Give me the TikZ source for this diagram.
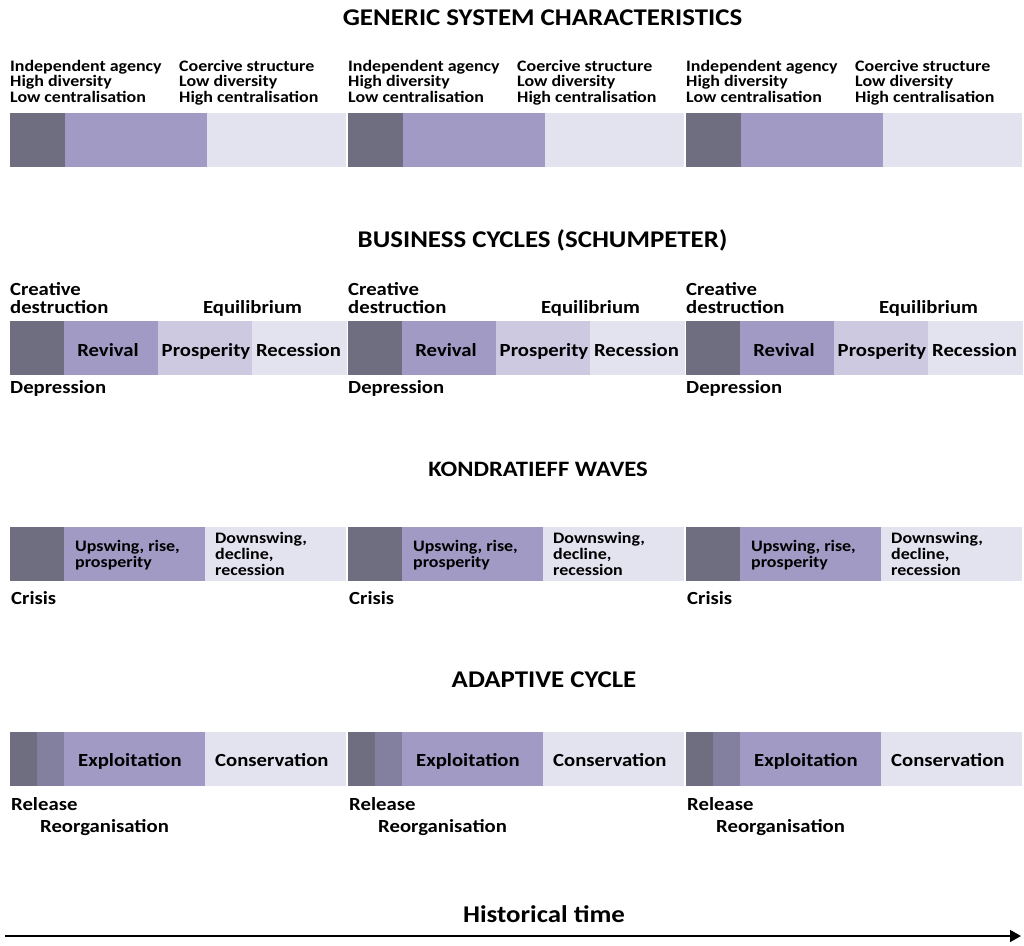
\documentclass[tikz,border=0pt]{standalone}
\usepackage{fontspec}
\setmainfont{Carlito}[FakeStretch=1.12]
\usetikzlibrary{arrows.meta}

% phase colours, darkest to lightest
\definecolor{phDark}{HTML}{6F6E80}
\definecolor{phDarkMid}{HTML}{827F9F}
\definecolor{phMid}{HTML}{A09AC4}
\definecolor{phPale}{HTML}{CCC9E1}
\definecolor{phLight}{HTML}{E3E2EF}

% multi-line labels are placed by the baseline of their last line
\tikzset{
  seg/.style={draw=none, inner sep=0pt, outer sep=0pt, minimum height=54pt, anchor=north west},
  heading/.style={font=\fontsize{24}{24}\selectfont\bfseries, anchor=base, inner sep=0pt},
  lbl/.style={font=\fontsize{18.5}{18}\selectfont\bfseries, anchor=base west, inner sep=0pt, align=left},
  smalllbl/.style={font=\fontsize{16}{15.5}\selectfont\bfseries, anchor=base west, inner sep=0pt, align=left},
  inlbl/.style={font=\fontsize{16}{16}\selectfont\bfseries, anchor=base west, inner sep=0pt, align=left},
  clbl/.style={font=\fontsize{18.5}{18}\selectfont\bfseries, anchor=base, inner sep=0pt},
}

\begin{document}
\begin{tikzpicture}[x=1pt, y=-1pt]
\useasboundingbox (0,0) rectangle (1024,945);

% ---- generic system characteristics ----
\node[heading] (t1) at (542.5,25) {GENERIC SYSTEM CHARACTERISTICS};
\foreach \i/\x in {1/10, 2/348, 3/686} {
  \node[seg, fill=phDark,  minimum width=55pt]  (ga\i) at (\x,113) {};
  \node[seg, fill=phMid,   minimum width=142pt] (gb\i) at (\x+55,113) {};
  \node[seg, fill=phLight, minimum width=139pt] (gc\i) at (\x+197,113) {};
  \node[smalllbl] (gl\i) at (\x,102) {Independent agency\\High diversity\\Low centralisation};
  \node[smalllbl] (gr\i) at (\x+169,102) {Coercive structure\\Low diversity\\High centralisation};
}

% ---- business cycles ----
\node[heading] (t2) at (542.5,247) {BUSINESS CYCLES (SCHUMPETER)};
\foreach \i/\x in {1/10, 2/348, 3/686} {
  \node[seg, fill=phDark,  minimum width=54pt] (ba\i) at (\x,321) {};
  \node[seg, fill=phMid,   minimum width=94pt] (bb\i) at (\x+54,321) {};
  \node[seg, fill=phPale,  minimum width=94pt] (bc\i) at (\x+148,321) {};
  \node[seg, fill=phLight, minimum width=95pt] (bd\i) at (\x+242,321) {};
  \node[clbl] (brev\i) at (\x+98,356) {Revival};
  \node[clbl] (bpro\i) at (\x+196,356) {Prosperity};
  \node[clbl] (brec\i) at (\x+288.5,356) {Recession};
  \node[lbl] (bcd\i) at (\x,313) {Creative\\destruction};
  \node[clbl] (beq\i) at (\x+242.5,313) {Equilibrium};
  \node[lbl] (bdep\i) at (\x,393) {Depression};
}

% ---- Kondratieff waves ----
\node[heading, font=\fontsize{22}{22}\selectfont\bfseries] (t3) at (538,476) {KONDRATIEFF WAVES};
\foreach \i/\x in {1/10, 2/348, 3/686} {
  \node[seg, fill=phDark,  minimum width=54pt]  (ka\i) at (\x,527) {};
  \node[seg, fill=phMid,   minimum width=141pt] (kb\i) at (\x+54,527) {};
  \node[seg, fill=phLight, minimum width=141pt] (kc\i) at (\x+195,527) {};
  \node[inlbl] (kup\i) at (\x+65,567) {Upswing, rise,\\prosperity};
  \node[inlbl] (kdn\i) at (\x+205,575) {Downswing,\\decline,\\recession};
  \node[lbl] (kcr\i) at (\x+1,604) {Crisis};
}

% ---- adaptive cycle ----
\node[heading] (t4) at (544,687) {ADAPTIVE CYCLE};
\foreach \i/\x in {1/10, 2/348, 3/686} {
  \node[seg, fill=phDark,    minimum width=27pt]  (aa\i) at (\x,732) {};
  \node[seg, fill=phDarkMid, minimum width=27pt]  (ab\i) at (\x+27,732) {};
  \node[seg, fill=phMid,     minimum width=141pt] (ac\i) at (\x+54,732) {};
  \node[seg, fill=phLight,   minimum width=141pt] (ad\i) at (\x+195,732) {};
  \node[lbl] (aex\i) at (\x+68,766) {Exploitation};
  \node[lbl] (aco\i) at (\x+205,766) {Conservation};
  \node[lbl] (are\i) at (\x+1,810) {Release};
  \node[lbl] (aro\i) at (\x+30,832) {Reorganisation};
}

% ---- time axis ----
\node[heading] (t5) at (544,922) {Historical time};
\coordinate (tstart) at (5,936);
\coordinate (tend) at (1021,936);
\draw[line width=1.6pt, -{Triangle[length=11pt, width=12pt]}] (tstart) -- (tend);
\end{tikzpicture}
\end{document}
